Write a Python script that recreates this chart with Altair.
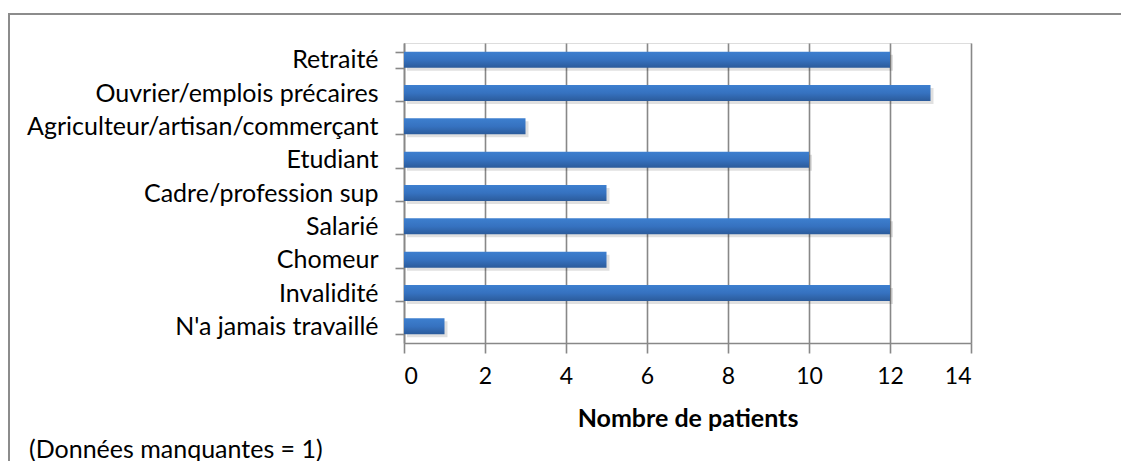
import altair as alt
import pandas as pd

categories = [
    "Retraité",
    "Ouvrier/emplois précaires",
    "Agriculteur/artisan/commerçant",
    "Etudiant",
    "Cadre/profession sup",
    "Salarié",
    "Chomeur",
    "Invalidité",
    "N'a jamais travaillé",
]
values = [12, 13, 3, 10, 5, 12, 5, 12, 1]
x_ticks = [0, 2, 4, 6, 8, 10, 12, 14]
x_title = "Nombre de patients"
footnote = "(Données manquantes = 1)"

FONT = "Lato"
FS = 25
W, H = 567, 300

df = pd.DataFrame({"cat": categories, "val": values})

x_enc = alt.X(
    "val:Q",
    scale=alt.Scale(domain=[0, 14], nice=False),
    axis=alt.Axis(
        values=x_ticks,
        title=x_title,
        titleFont=FONT,
        titleFontSize=FS,
        titleFontWeight="bold",
        titleColor="#000",
        titlePadding=18,
        labelFont=FONT,
        labelFontSize=23,
        labelColor="#000",
        labelPadding=12,
        tickSize=10,
        tickColor="#888888",
        tickWidth=1.6,
        domainColor="#888888",
        domainWidth=1.6,
        grid=True,
        gridColor="#888888",
        gridWidth=1.6,
    ),
)
y_enc = alt.Y(
    "cat:N",
    sort=categories,
    scale=alt.Scale(paddingInner=0.52, paddingOuter=0.26),
    axis=alt.Axis(
        title=None,
        labelFont=FONT,
        labelFontSize=FS,
        labelColor="#000",
        labelPadding=17,
        labelLimit=500,
        tickBand="extent",
        tickSize=9,
        tickColor="#888888",
        tickWidth=1.6,
        domainColor="#888888",
        domainWidth=1.6,
        grid=False,
    ),
)

shadow = alt.Chart(df).mark_bar(
    color="#000000", opacity=0.12, xOffset=3, yOffset=3
).encode(x=x_enc, y=y_enc)

grad = alt.Gradient(
    gradient="linear",
    stops=[
        alt.GradientStop(color="#3d7fcf", offset=0),
        alt.GradientStop(color="#3672c0", offset=0.5),
        alt.GradientStop(color="#2b5b9b", offset=1),
    ],
    x1=0, x2=0, y1=0, y2=1,
)
bars = alt.Chart(df).mark_bar(color=grad).encode(x=x_enc, y=y_enc)

one = pd.DataFrame({"t": [footnote]})
border = alt.Chart(one).mark_rect(
    fill=None, stroke="#8c8c8c", strokeWidth=2
).encode(
    x=alt.value(-395), x2=alt.value(760), y=alt.value(-29), y2=alt.value(460)
)
note = alt.Chart(one).mark_text(
    font=FONT, fontSize=FS, align="left", baseline="middle", color="#000"
).encode(x=alt.value(-375), y=alt.value(407), text="t:N")

chart = alt.layer(border, shadow, bars, note).properties(
    width=W,
    height=H,
    autosize=alt.AutoSizeParams(type="none"),
    padding={"left": 396, "top": 35, "right": 150, "bottom": 118},
).configure_view(stroke=None).configure(background="white")

chart.save("out.html", embed_options={"renderer": "svg", "actions": False})
